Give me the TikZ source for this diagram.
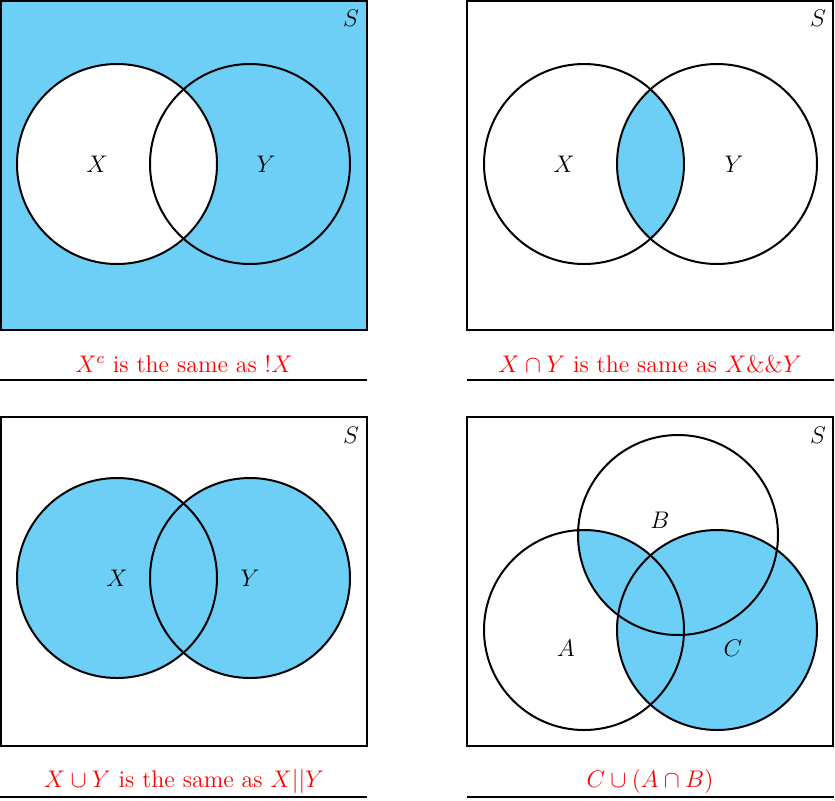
\documentclass[tikz,border=0pt]{standalone}
\definecolor{vblue}{RGB}{109,207,246}
\tikzset{
  panel/.style={draw=black, line width=1.2pt},
  ring/.style={draw=black, line width=1pt},
  rule/.style={draw=black, line width=1pt},
  captext/.style={text=red, font=\large, anchor=base, inner sep=0pt},
  lbl/.style={font=\large, inner sep=0pt},
}
\begin{document}
\begin{tikzpicture}[x=0.5pt,y=-0.5pt]
\useasboundingbox (0,0) rectangle (835,800);
% ---------- top left: complement ----------
\fill[vblue] (1,1) rectangle (367,330);
\fill[white] (117,164) circle[radius=50pt];
\draw[ring] (117,164) circle[radius=50pt];
\draw[ring] (250,164) circle[radius=50pt];
\draw[panel] (1,1) rectangle (367,330);
\node[lbl] (s1) at (351,18) {$S$};
\node[lbl] (x1) at (97,164) {$X$};
\node[lbl] (y1) at (266,164) {$Y$};
\node[captext] (c1) at (184,372) {$X^c$ is the same as $!X$};
\draw[rule] (0,380) -- (367,380);
% ---------- top right: intersection ----------
\begin{scope}
  \clip (584,164) circle[radius=50pt];
  \fill[vblue] (717,164) circle[radius=50pt];
\end{scope}
\draw[ring] (584,164) circle[radius=50pt];
\draw[ring] (717,164) circle[radius=50pt];
\draw[panel] (467,1) rectangle (833,330);
\node[lbl] (s2) at (818,18) {$S$};
\node[lbl] (x2) at (564,164) {$X$};
\node[lbl] (y2) at (734,164) {$Y$};
\node[captext] (c2) at (650,372) {$X\cap Y$ is the same as $X\&\&Y$};
\draw[rule] (467,380) -- (834,380);
% ---------- bottom left: union ----------
\fill[vblue] (117,578) circle[radius=50pt];
\fill[vblue] (250,578) circle[radius=50pt];
\draw[ring] (117,578) circle[radius=50pt];
\draw[ring] (250,578) circle[radius=50pt];
\draw[panel] (1,417) rectangle (367,746);
\node[lbl] (s3) at (351,435) {$S$};
\node[lbl] (x3) at (117,578) {$X$};
\node[lbl] (y3) at (250,578) {$Y$};
\node[captext] (c3) at (184,787) {$X\cup Y$ is the same as $X||Y$};
\draw[rule] (0,797) -- (367,797);
% ---------- bottom right: C union (A cap B) ----------
\fill[vblue] (717,630) circle[radius=50pt];
\begin{scope}
  \clip (584,630) circle[radius=50pt];
  \fill[vblue] (678,535) circle[radius=50pt];
\end{scope}
\draw[ring] (584,630) circle[radius=50pt];
\draw[ring] (678,535) circle[radius=50pt];
\draw[ring] (717,630) circle[radius=50pt];
\draw[panel] (467,417) rectangle (833,746);
\node[lbl] (s4) at (818,435) {$S$};
\node[lbl] (a4) at (566,648) {$A$};
\node[lbl] (b4) at (660,520) {$B$};
\node[lbl] (c4l) at (733,648) {$C$};
\node[captext] (c4) at (650,787) {$C\cup(A\cap B)$};
\draw[rule] (467,797) -- (834,797);
\end{tikzpicture}
\end{document}
